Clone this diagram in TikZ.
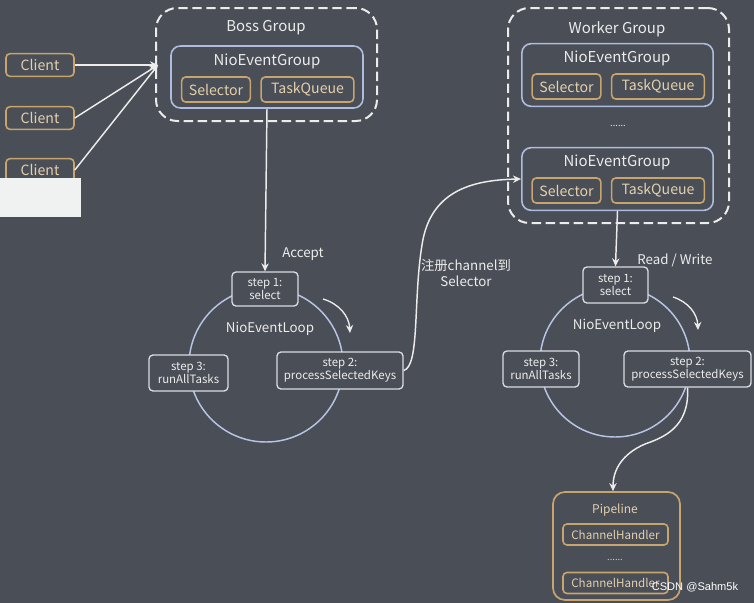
\documentclass[tikz,border=0pt]{standalone}
\usepackage{fontspec}
\setmainfont{Noto Sans CJK SC}
\newfontfamily\wmfont{Liberation Sans}
\usetikzlibrary{arrows.meta}
\definecolor{bg}{HTML}{4A4E56}
\definecolor{orng}{HTML}{C8A46E}
\definecolor{tan}{HTML}{E4D0AC}
\definecolor{blueb}{HTML}{AEBCDD}
\definecolor{circc}{HTML}{B8C4E4}
\definecolor{stepc}{HTML}{DADDE3}
\definecolor{txt}{HTML}{ECECEC}
\definecolor{paper}{HTML}{F0F1F1}
\begin{document}
\begin{tikzpicture}[x=0.75pt,y=-0.75pt,
  obox/.style={draw=orng, line width=1.2pt, rounded corners=3pt, text=tan, inner sep=0pt, fill=bg, font=\fontsize{10.6}{12}\selectfont},
  bbox/.style={draw=blueb, line width=1.2pt, rounded corners=7pt, inner sep=0pt, minimum width=143.5pt, minimum height=47pt},
  dbox/.style={draw=txt, line width=1.5pt, dash pattern=on 7pt off 3.5pt, rounded corners=16pt, inner sep=0pt},
  sbox/.style={draw=stepc, line width=1pt, rounded corners=3pt, fill=bg, text=txt, align=center, inner sep=0pt, font=\fontsize{8.6}{9.6}\selectfont},
  lbl/.style={text=txt, font=\fontsize{11.2}{13}\selectfont},
  slbl/.style={text=txt, align=center, font=\fontsize{10}{12}\selectfont},
  loop/.style={draw=circc, line width=1.1pt, circle, inner sep=0pt},
  arr/.style={draw=txt, line width=1.1pt, -{Stealth[length=6pt,width=5.5pt]}},
  clientbox/.style={obox, minimum width=51pt, minimum height=17pt},
  selbox/.style={obox, minimum width=51.5pt, minimum height=18.75pt},
  tqbox/.style={obox, minimum width=69.5pt, minimum height=18.75pt},
  chbox/.style={obox, minimum width=78.75pt, minimum height=15.75pt, font=\fontsize{8.7}{9.6}\selectfont}
]
\fill[bg] (0,0) rectangle (754,603);
\useasboundingbox (0,0) rectangle (754,603);

% Boss group
\node[dbox, minimum width=165.75pt, minimum height=84.75pt] (boss) at (266.5,64.5) {};
\node[lbl] (bosslbl) at (266,28) {Boss Group};
\node[bbox, minimum width=144pt, minimum height=46.5pt] (bneg) at (267,77) {};
\node[lbl] (bneglbl) at (267,61) {NioEventGroup};
\node[selbox] (bsel) at (216,89.5) {Selector};
\node[tqbox] (btq) at (307.5,89.5) {TaskQueue};

% Clients
\node[clientbox] (c1) at (40,65) {Client};
\node[clientbox] (c2) at (40,118) {Client};
\node[clientbox] (c3) at (40,170) {Client};
\coordinate (bin) at (158,65);
\draw[arr] (c1.east) -- (bin);
\draw[arr] (c2.east) -- (bin);
\draw[arr] (c3.east) -- (bin);
\fill[paper] (0,178) rectangle (81,217);

% Worker group
\node[dbox, minimum width=165.75pt, minimum height=161.25pt] (worker) at (618.5,115.5) {};
\node[lbl] (wlbl) at (617,29) {Worker Group};
\node[bbox] (wneg1) at (617.5,75) {};
\node[lbl] (wneg1lbl) at (617,58) {NioEventGroup};
\node[selbox] (wsel1) at (566.5,86.5) {Selector};
\node[tqbox] (wtq1) at (658,86.5) {TaskQueue};
\node[text=txt, font=\fontsize{7}{8}\selectfont] (wdots) at (618,126) {......};
\node[bbox] (wneg2) at (617.5,179) {};
\node[lbl] (wneg2lbl) at (617,162) {NioEventGroup};
\node[selbox] (wsel2) at (566.5,190.5) {Selector};
\node[tqbox] (wtq2) at (658,190.5) {TaskQueue};

% Left event loop
\node[loop, minimum size=115.5pt] (loopL) at (266,365) {};
\node[sbox, minimum width=49.5pt, minimum height=25.5pt] (ls1) at (265,289) {step 1:\\select};
\node[sbox, minimum width=59.25pt, minimum height=27pt] (ls3) at (188.5,373) {step 3:\\runAllTasks};
\node[sbox, minimum width=94.5pt, minimum height=27.75pt] (ls2) at (340,370.5) {step 2:\\processSelectedKeys};
\node[slbl] (lloop) at (270,329) {NioEventLoop};
\node[slbl] (accept) at (303,254) {Accept};
\coordinate (la1) at (323,299);
\coordinate (la2) at (350,333);
\draw[arr, line width=1pt] (la1) to[bend left=35] (la2);
\draw[arr] (bneg.south) -- (ls1.north);

% Right event loop
\node[loop, minimum size=112.5pt] (loopR) at (615,362) {};
\node[sbox, minimum width=48.75pt, minimum height=27pt] (rs1) at (615.5,285) {step 1:\\select};
\node[sbox, minimum width=57pt, minimum height=27pt] (rs3) at (541,369) {step 3:\\runAllTasks};
\node[sbox, minimum width=95.25pt, minimum height=27pt] (rs2) at (687.5,369) {step 2:\\processSelectedKeys};
\node[slbl] (rloop) at (617,326) {NioEventLoop};
\node[slbl] (rw) at (675,260) {Read / Write};
\coordinate (ra1) at (673,297);
\coordinate (ra2) at (698,330);
\draw[arr, line width=1pt] (ra1) to[bend left=35] (ra2);
\draw[arr] (wneg2.south) -- (rs1.north);

% register connector
\draw[arr] (ls2.east) .. controls (420,366) and (413,300) .. (422,245) .. controls (430,192) and (470,180) .. (wneg2.west);
\node[slbl] (reg) at (466,273) {注册channel到\\Selector};

% Pipeline
\node[draw=orng, line width=1.3pt, rounded corners=9pt, minimum width=95.25pt, minimum height=81pt, inner sep=0pt] (pipe) at (616.5,546) {};
\node[text=tan, font=\fontsize{9}{10}\selectfont] (pipelbl) at (615,510) {Pipeline};
\node[chbox] (ch1) at (615.5,534.5) {ChannelHandler};
\node[text=tan, font=\fontsize{7}{8}\selectfont] (pdots) at (615,560) {......};
\node[chbox] (ch2) at (615.5,583) {ChannelHandler};
\draw[arr] (rs2.south) .. controls (690,428) and (662,438) .. (645,444) .. controls (622,454) and (613,470) .. (pipe.north -| 613,0);

% watermark
\node[text=white, font=\wmfont\fontsize{8.3}{10}\selectfont] (wm) at (695,587) {CSDN @Sahm5k};
\end{tikzpicture}
\end{document}
